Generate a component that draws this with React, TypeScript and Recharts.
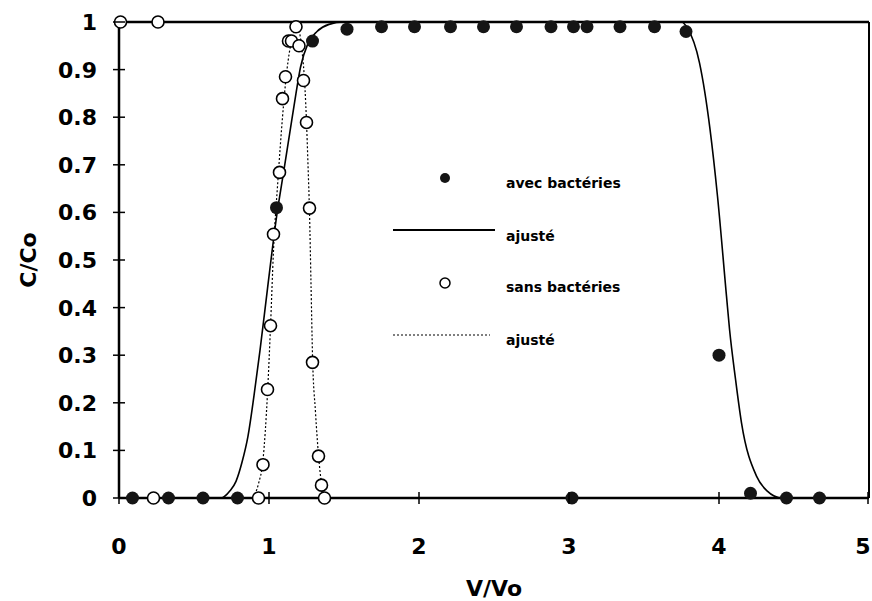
import {
  ComposedChart, Line, Scatter, XAxis, YAxis, ReferenceLine, Legend
} from 'recharts';

// avec bactéries (points)
const avecV = [0.09, 0.33, 0.56, 0.79, 1.05, 1.29, 1.52, 1.75, 1.97, 2.21, 2.43, 2.65, 2.88, 3.02, 3.03, 3.12, 3.34, 3.57, 3.78, 4.0, 4.21, 4.45, 4.67];
const avecC = [0, 0, 0, 0, 0.61, 0.96, 0.985, 0.99, 0.99, 0.99, 0.99, 0.99, 0.99, 0, 0.99, 0.99, 0.99, 0.99, 0.98, 0.3, 0.01, 0, 0];

// sans bactéries (points)
const sansV = [0.01, 0.26, 0.23, 0.93, 0.96, 0.99, 1.01, 1.03, 1.07, 1.09, 1.11, 1.13, 1.15, 1.18, 1.2, 1.23, 1.25, 1.27, 1.29, 1.33, 1.35, 1.37];
const sansC = [1, 1, 0, 0, 0.07, 0.228, 0.362, 0.554, 0.684, 0.839, 0.885, 0.96, 0.96, 0.99, 0.95, 0.877, 0.789, 0.609, 0.285, 0.088, 0.027, 0];

// ajusté, avec bactéries (trait plein)
const fitAvecV = [0, 0.68, 0.74, 0.78, 0.82, 0.86, 0.9, 0.94, 0.99, 1.05, 1.1, 1.14, 1.18, 1.21, 1.26, 1.32, 1.4, 1.5, 3.75, 3.79, 3.87, 3.94, 3.99, 4.05, 4.07, 4.11, 4.15, 4.25, 4.32, 4.42, 5];
const fitAvecC = [0, 0, 0.015, 0.035, 0.075, 0.13, 0.215, 0.31, 0.44, 0.59, 0.69, 0.77, 0.85, 0.905, 0.955, 0.98, 0.995, 1, 1, 0.987, 0.914, 0.775, 0.634, 0.424, 0.355, 0.25, 0.158, 0.046, 0.015, 0, 0];

// ajusté, sans bactéries (pointillé)
const fitSansV = [0.89, 0.93, 0.96, 0.99, 1.01, 1.03, 1.06, 1.09, 1.12, 1.15, 1.18, 1.2, 1.22, 1.24, 1.25, 1.26, 1.27, 1.28, 1.29, 1.31, 1.33, 1.35, 1.37];
const fitSansC = [0, 0.03, 0.08, 0.22, 0.36, 0.52, 0.67, 0.8, 0.9, 0.96, 0.985, 0.98, 0.94, 0.86, 0.79, 0.7, 0.6, 0.45, 0.3, 0.18, 0.09, 0.03, 0];

const xTicks = [0, 1, 2, 3, 4, 5];
const yTicks = [0, 0.1, 0.2, 0.3, 0.4, 0.5, 0.6, 0.7, 0.8, 0.9, 1];

const zip = (xs: number[], ys: number[]) => xs.map((x, i) => ({ x, y: ys[i] }));

const avecData = zip(avecV, avecC);
const sansData = zip(sansV, sansC);
const fitAvecData = zip(fitAvecV, fitAvecC);
const fitSansData = zip(fitSansV, fitSansC);

const FONT = '"DejaVu Sans", sans-serif';

const YTick = ({ x, y, payload }: any) => (
  <g>
    <line x1={x - 6} x2={x + 6} y1={y} y2={y} stroke="#000" strokeWidth={1.5} />
    <text x={x - 22} y={y} dy="0.36em" textAnchor="end" fontFamily={FONT} fontWeight="bold" fontSize={22} fill="#000">
      {String(payload.value)}
    </text>
  </g>
);

// the last label sits at the very edge of the page, pull it in a little
const XTick = ({ x, y, payload }: any) => (
  <g>
    <line x1={x} x2={x} y1={y - 6} y2={y + 6} stroke="#000" strokeWidth={1.5} />
    <text x={payload.value === 5 ? x - 5 : x} y={y + 56} textAnchor="middle" fontFamily={FONT} fontWeight="bold" fontSize={22} fill="#000">
      {String(payload.value)}
    </text>
  </g>
);

const FilledDot = ({ cx, cy }: any) => <circle cx={cx} cy={cy} r={6.5} fill="#151515" />;
const OpenDot = ({ cx, cy }: any) => <circle cx={cx} cy={cy} r={6} fill="#fff" stroke="#000" strokeWidth={1.6} />;

const legendText = { fontFamily: FONT, fontWeight: 'bold' as const, fontSize: 14, fill: '#000' };

const ChartLegend = () => (
  <svg width={260} height={200} style={{ overflow: 'visible' }}>
    <circle cx={65} cy={18} r={5} fill="#151515" />
    <text x={126} y={23} dy="0.35em" {...legendText}>avec bactéries</text>
    <line x1={13} x2={115} y1={70} y2={70} stroke="#000" strokeWidth={2} />
    <text x={126} y={76} dy="0.35em" {...legendText}>ajusté</text>
    <circle cx={65} cy={123} r={5} fill="#fff" stroke="#000" strokeWidth={1.5} />
    <text x={126} y={127} dy="0.35em" {...legendText}>sans bactéries</text>
    <line x1={13} x2={110} y1={175} y2={175} stroke="#000" strokeWidth={1.2} strokeDasharray="2 2" />
    <text x={126} y={180} dy="0.35em" {...legendText}>ajusté</text>
  </svg>
);

export default function App() {
  return (
    <div style={{ position: 'absolute', left: 0, top: 0, background: '#fff' }}>
      <ComposedChart width={872} height={601} margin={{ top: 22, right: 3, bottom: 43, left: 0 }}>
        <XAxis
          type="number"
          dataKey="x"
          domain={[0, 5]}
          ticks={xTicks}
          height={60}
          tickSize={0}
          tickMargin={0}
          tickLine={false}
          axisLine={{ stroke: '#000', strokeWidth: 2.5 }}
          tick={<XTick />}
          label={{
            content: ({ viewBox }: any) => (
              <text x={viewBox.x + viewBox.width / 2} y={viewBox.y + 98} textAnchor="middle"
                fontFamily={FONT} fontWeight="bold" fontSize={22} fill="#000">V/Vo</text>
            ),
          }}
        />
        <YAxis
          type="number"
          dataKey="y"
          domain={[0, 1]}
          ticks={yTicks}
          width={119}
          tickSize={0}
          tickMargin={0}
          tickLine={false}
          axisLine={{ stroke: '#000', strokeWidth: 2.5 }}
          tick={<YTick />}
          label={{
            content: ({ viewBox }: any) => {
              const cx = viewBox.x + 28;
              const cy = viewBox.y + viewBox.height / 2;
              return (
                <text x={cx} y={cy} transform={`rotate(-90 ${cx} ${cy})`} textAnchor="middle" dy="0.35em"
                  fontFamily={FONT} fontWeight="bold" fontSize={22} fill="#000">C/Co</text>
              );
            },
          }}
        />
        <ReferenceLine y={1} stroke="#000" strokeWidth={2.5} />
        <ReferenceLine x={5} stroke="#000" strokeWidth={2} />
        <Legend
          layout="vertical"
          align="center"
          verticalAlign="middle"
          wrapperStyle={{ left: 380, top: 160, width: 260 }}
          content={() => <ChartLegend />}
        />
        <Line data={fitAvecData} dataKey="y" type="monotone" stroke="#000" strokeWidth={1.6} dot={false} isAnimationActive={false} />
        <Line data={fitSansData} dataKey="y" type="monotone" stroke="#000" strokeWidth={1.2} strokeDasharray="2 2" dot={false} isAnimationActive={false} />
        <Scatter data={avecData} dataKey="y" shape={<FilledDot />} isAnimationActive={false} />
        <Scatter data={sansData} dataKey="y" shape={<OpenDot />} isAnimationActive={false} />
      </ComposedChart>
    </div>
  );
}
